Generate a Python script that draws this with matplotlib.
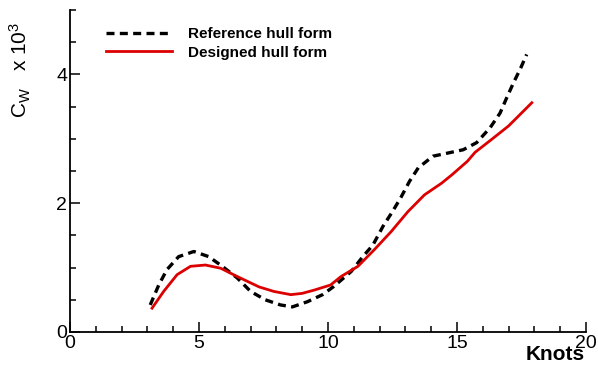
import matplotlib
matplotlib.use("Agg")
import matplotlib.pyplot as plt
from matplotlib.ticker import MultipleLocator

plt.rcParams['font.family'] = ['Liberation Sans', 'DejaVu Sans']
plt.rcParams['mathtext.fontset'] = 'custom'
plt.rcParams['mathtext.rm'] = 'Liberation Sans'
plt.rcParams['mathtext.it'] = 'Liberation Sans'

ref_knots = [3.11, 3.44, 3.76, 4.21, 4.8, 5.38, 5.9, 6.48, 7.0, 7.57, 8.16, 8.62, 9.2, 9.79,
             10.2, 10.9, 11.35, 11.74, 12.13, 12.5, 12.84, 13.16, 13.5, 14.07, 14.66,
             15.24, 15.76, 16.28, 16.67, 16.93, 17.19, 17.47, 17.7]
ref_cw = [0.42, 0.73, 0.97, 1.17, 1.25, 1.17, 1.02, 0.84, 0.63, 0.5, 0.42, 0.39, 0.47, 0.58,
          0.7, 0.94, 1.17, 1.35, 1.64, 1.87, 2.1, 2.34, 2.55, 2.73, 2.78,
          2.83, 2.94, 3.17, 3.4, 3.64, 3.87, 4.1, 4.31]

des_knots = [3.18, 3.63, 4.15, 4.67, 5.25, 5.84, 6.49, 7.33, 7.9, 8.56, 9.0, 9.46, 10.1,
             10.5, 11.16, 11.8, 12.45, 13.1, 13.74, 14.4, 14.8, 15.4, 15.7, 16.34, 17.0,
             17.5, 17.9]
des_cw = [0.37, 0.63, 0.89, 1.02, 1.04, 0.99, 0.86, 0.70, 0.63, 0.58, 0.60, 0.65, 0.73,
          0.86, 1.02, 1.28, 1.56, 1.87, 2.13, 2.31, 2.44, 2.65, 2.79, 2.99, 3.2,
          3.4, 3.56]

labels = ["Reference hull form", "Designed hull form"]

fig = plt.figure(figsize=(5.98, 3.68), dpi=100)
ax = fig.add_axes([70/598, 36/368, 516/598, 322/368])

ax.plot(ref_knots, ref_cw, color='black', lw=2.4, dashes=(2.4, 1.6), label=labels[0])
ax.plot(des_knots, des_cw, color='#dd0000', lw=2.0, label=labels[1])

ax.set_xlim(0, 20)
ax.set_ylim(0, 5)
ax.xaxis.set_major_locator(MultipleLocator(5))
ax.xaxis.set_minor_locator(MultipleLocator(1))
ax.yaxis.set_major_locator(MultipleLocator(2))
ax.yaxis.set_minor_locator(MultipleLocator(0.5))
ax.tick_params(which='both', direction='in', width=1.1)
ax.tick_params(which='major', length=7, labelsize=14, pad=2)
ax.tick_params(which='minor', length=4)
ax.spines['top'].set_visible(False)
ax.spines['right'].set_visible(False)
for s in ['left', 'bottom']:
    ax.spines[s].set_linewidth(1.3)

leg = ax.legend(loc='upper left', bbox_to_anchor=(106/598, 1 - 27/368),
                bbox_transform=fig.transFigure, frameon=False, borderpad=0,
                borderaxespad=0, handlelength=4.3, handletextpad=1.1,
                labelspacing=0.3, prop={'weight': 'bold', 'size': 11})

fig.text(20/598, 1 - 70/368, r'C$_{\mathrm{W}}$   x 10$^{3}$', rotation=90, ha='center',
         va='center', fontsize=15)
fig.text(555/598, 1 - 355/368, 'Knots', ha='center', va='center', fontsize=15,
         fontweight='bold')

fig.savefig('out.png', dpi=100)
